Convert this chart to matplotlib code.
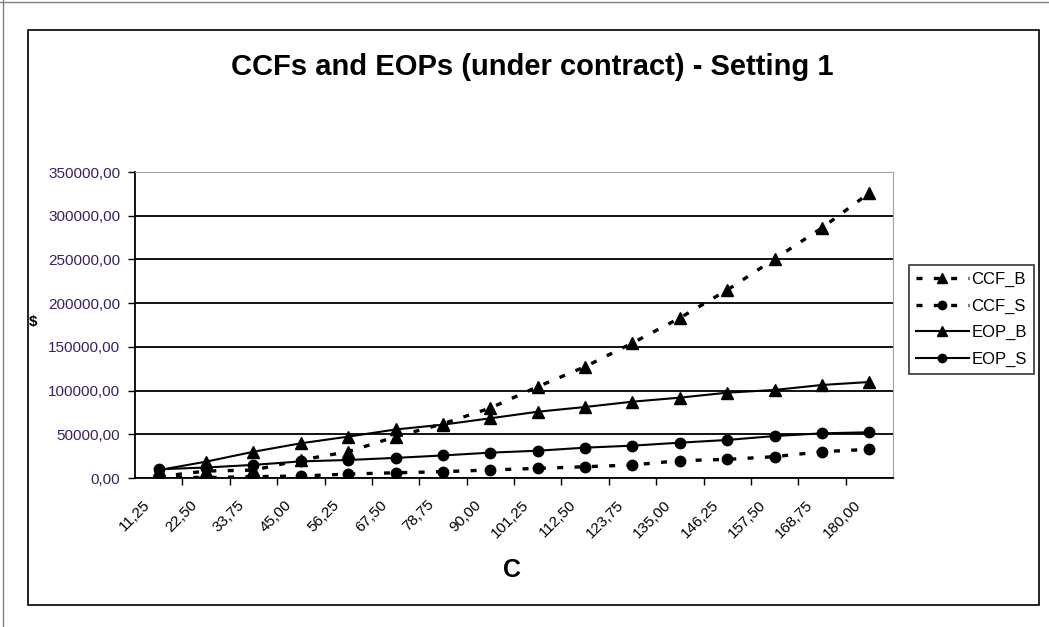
import numpy as np
import matplotlib
matplotlib.use("Agg")
import matplotlib.pyplot as plt
import matplotlib.transforms as mtransforms
from matplotlib.ticker import FuncFormatter, FixedLocator

plt.rcParams['font.family'] = ['Liberation Sans', 'DejaVu Sans']

# categories (C) and series
categories = ['11,25', '22,50', '33,75', '45,00', '56,25', '67,50', '78,75', '90,00',
              '101,25', '112,50', '123,75', '135,00', '146,25', '157,50', '168,75', '180,00']
ccf_b = [1500, 8000, 9000, 20600, 30100, 47200, 62000, 80000,
         104400, 127300, 154400, 183000, 215000, 250500, 286000, 326000]
ccf_s = [1000, 500, 1500, 2300, 4500, 6000, 7200, 9200,
         11000, 12900, 14900, 19800, 21300, 24400, 30100, 32800]
eop_b = [9000, 18700, 30000, 39700, 47300, 55500, 61000, 68300,
         75800, 81200, 87300, 91900, 97600, 100700, 106400, 109800]
eop_s = [10000, 12000, 15000, 19000, 20600, 23000, 25800, 29000,
         31200, 34700, 37000, 40400, 43500, 48000, 51100, 52300]

fig = plt.figure(figsize=(10.49, 6.27), dpi=100)
ax = fig.add_axes([135/1049, 1 - 478/627, (893-135)/1049, (478-172)/627])

x = np.arange(len(categories))
dot = (0, (1.8, 3.4))
ax.plot(x, ccf_b, color='black', lw=2.4, ls=dot, marker='^', ms=8.5, label='CCF_B', zorder=3)
ax.plot(x, ccf_s, color='black', lw=2.4, ls=dot, marker='o', ms=7.5, label='CCF_S', zorder=3)
ax.plot(x, eop_b, color='black', lw=1.5, marker='^', ms=8.5, label='EOP_B', zorder=3)
ax.plot(x, eop_s, color='black', lw=1.5, marker='o', ms=7.5, label='EOP_S', zorder=3)

ax.set_xlim(-0.5, len(categories) - 0.5)
ax.set_ylim(0, 350000)
ax.set_yticks(np.arange(0, 350001, 50000))
ax.yaxis.set_major_formatter(FuncFormatter(lambda v, p: f"{v:.2f}".replace('.', ',')))
ax.tick_params(axis='y', labelsize=11, labelcolor='#3a2060', length=5, width=1, pad=5.5)
ax.yaxis.grid(True, color='black', lw=1.3)
ax.set_axisbelow(True)

ax.set_xticks(x)
ax.set_xticklabels(categories, rotation=45, ha='right', va='top',
                   rotation_mode='anchor', fontsize=11)
ax.tick_params(axis='x', which='major', length=0, pad=14)
shift = mtransforms.ScaledTranslation(-16/100, 0, fig.dpi_scale_trans)
for lbl in ax.get_xticklabels():
    lbl.set_transform(lbl.get_transform() + shift)
ax.xaxis.set_minor_locator(FixedLocator(np.arange(0.5, len(categories) - 1, 1)))
ax.tick_params(axis='x', which='minor', length=5, width=1)

for s in ['left', 'bottom']:
    ax.spines[s].set_linewidth(1.3)
for s in ['top', 'right']:
    ax.spines[s].set_color('#a0a0a0')

fig.text(532/1049, 1 - 67/627, 'CCFs and EOPs (under contract) - Setting 1',
         ha='center', va='center', fontsize=21, fontweight='bold')
fig.text(33/1049, 1 - 322/627, '$', ha='center', va='center', fontsize=11, fontweight='bold')
fig.text(512/1049, 1 - 570/627, 'C', ha='center', va='center', fontsize=18, fontweight='bold')

leg = ax.legend(loc='upper left', bbox_to_anchor=(909/1049, 1 - 265/627),
                bbox_transform=fig.transFigure, frameon=True, fancybox=False,
                edgecolor='black', fontsize=12, handlelength=3.2, handletextpad=0.15,
                labelspacing=0.7, borderpad=0.4, borderaxespad=0, markerscale=0.8)
leg.get_frame().set_linewidth(1.2)

# chart area frame and outer edge
fig.add_artist(plt.Rectangle((28/1049, 1 - 605/627), (1039-28)/1049, (605-30)/627,
                             transform=fig.transFigure, fill=False, ec='black', lw=1.2))
fig.add_artist(plt.Line2D([3/1049, 3/1049], [0, 1], transform=fig.transFigure, color='#808080', lw=1))
fig.add_artist(plt.Line2D([0, 1], [1 - 2/627, 1 - 2/627], transform=fig.transFigure, color='#808080', lw=1))

fig.savefig('out.png', dpi=100)
